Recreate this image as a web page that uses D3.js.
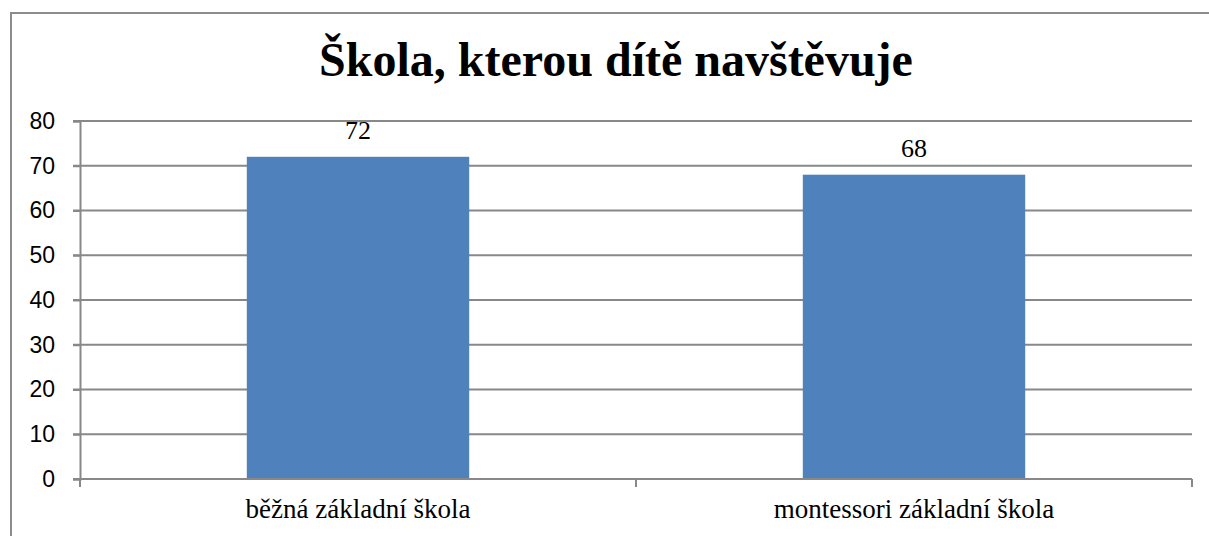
<!DOCTYPE html>
<html><head><meta charset="utf-8">
<script src="https://cdn.jsdelivr.net/npm/d3@7"></script>
<style>html,body{margin:0;padding:0;background:#fff;}</style>
</head><body>
<svg id="c" width="1209" height="536"></svg>
<script>
const categories = ["běžná základní škola", "montessori základní škola"];
const values = [72, 68];
const yTicks = [0, 10, 20, 30, 40, 50, 60, 70, 80];
const title = "Škola, kterou dítě navštěvuje";

const svg = d3.select("#c");
const W = 1209, H = 536;
const m = {left: 80, right: 1192, top: 121, bottom: 479};
const serif = "'Liberation Serif', 'Times New Roman', serif";
const sans = "'Liberation Sans', Arial, sans-serif";

svg.append("rect").attr("x", 11).attr("y", 13).attr("width", W).attr("height", H)
  .attr("fill", "#fff").attr("stroke", "#8c8c8c").attr("stroke-width", 2);

svg.append("text").attr("x", 616).attr("y", 76).attr("text-anchor", "middle")
  .style("font-family", serif).attr("font-weight", "bold")
  .attr("font-size", 48).attr("fill", "#000").text(title);

const x = d3.scaleBand().domain(categories).range([m.left, m.right]).paddingInner(0.6).paddingOuter(0.3);
const xo = d3.scaleBand().domain(categories).range([m.left, m.right]);
const y = d3.scaleLinear().domain([0, 80]).range([m.bottom, m.top]);

// gridlines
svg.append("g").selectAll("line").data(yTicks).join("line")
  .attr("x1", m.left - 7).attr("x2", m.right).attr("y1", d => y(d)).attr("y2", d => y(d))
  .attr("stroke", "#888").attr("stroke-width", 2);

// y axis
const ya = svg.append("g").attr("transform", `translate(${m.left},0)`)
  .call(d3.axisLeft(y).tickValues(yTicks).tickSize(7).tickPadding(18));
ya.select(".domain").attr("stroke", "#888").attr("stroke-width", 2);
ya.selectAll(".tick line").attr("stroke", "#888").attr("stroke-width", 2);
ya.selectAll("text").style("font-family", sans).attr("font-size", 23).attr("fill", "#000");

// bars
svg.append("g").selectAll("rect").data(values).join("rect")
  .attr("x", (d, i) => x(categories[i])).attr("width", x.bandwidth())
  .attr("y", d => y(d)).attr("height", d => y(0) - y(d)).attr("fill", "#4f81bd");

// x axis
const xa = svg.append("g").attr("transform", `translate(0,${m.bottom})`)
  .call(d3.axisBottom(xo).tickSize(0).tickPadding(0));
xa.select(".domain").remove();
xa.selectAll("text").attr("dy", null).attr("y", 39).style("font-family", serif).attr("font-size", 27).attr("fill", "#000");
svg.append("line").attr("x1", m.left).attr("x2", m.right).attr("y1", y(0)).attr("y2", y(0))
  .attr("stroke", "#888").attr("stroke-width", 2);
const bounds = [m.left, xo(categories[1]), m.right];
svg.append("g").selectAll("line").data(bounds).join("line")
  .attr("x1", d => d).attr("x2", d => d).attr("y1", y(0)).attr("y2", y(0) + 8)
  .attr("stroke", "#888").attr("stroke-width", 2);

// value labels
svg.append("g").selectAll("text").data(values).join("text")
  .attr("x", (d, i) => x(categories[i]) + x.bandwidth() / 2).attr("y", d => y(d) - 18)
  .attr("text-anchor", "middle").style("font-family", serif)
  .attr("font-size", 26).attr("fill", "#000").text(d => d);
</script>
</body></html>
